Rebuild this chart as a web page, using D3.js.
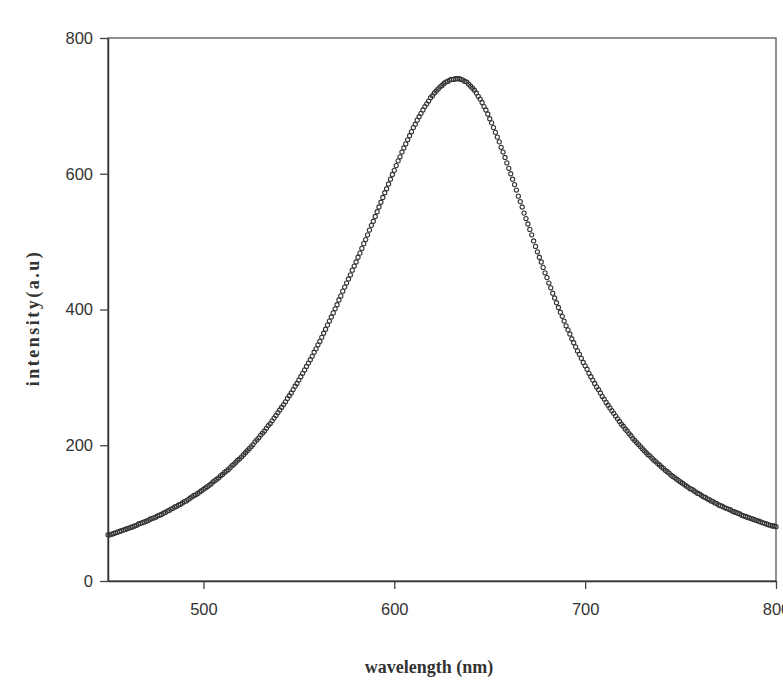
<!DOCTYPE html>
<html>
<head>
<meta charset="utf-8">
<script src="https://cdn.jsdelivr.net/npm/d3@7"></script>
<style>
  body { margin: 0; background: #fff; }
  svg { display: block; }
</style>
</head>
<body>
<div id="chart"></div>
<script>
// wavelength grid, 1 nm steps from 450 to 800
var wlStart = 450;
var wlEnd = 800;

// intensity, 450 .. 632 nm
var intensityLeft = [
  68, 68, 69, 70, 71, 72, 73, 74, 75, 76,
  77, 78, 79, 80, 81, 82, 84, 85, 86, 87,
  88, 89, 91, 92, 93, 94, 96, 97, 98, 100,
  101, 103, 104, 106, 107, 109, 110, 112, 113, 115,
  117, 118, 120, 122, 124, 126, 127, 129, 131, 133,
  135, 137, 139, 141, 143, 146, 148, 150, 152, 155,
  157, 160, 162, 164, 167, 170, 172, 175, 178, 180,
  183, 186, 189, 192, 195, 198, 201, 205, 208, 211,
  215, 218, 221, 225, 229, 232, 236, 240, 244, 248,
  252, 256, 260, 264, 269, 273, 277, 282, 287, 291,
  296, 301, 306, 311, 316, 321, 326, 331, 337, 342,
  348, 353, 359, 365, 371, 377, 383, 389, 395, 401,
  407, 414, 420, 427, 433, 439, 445, 451, 458, 464,
  470, 477, 483, 490, 497, 503, 510, 517, 524, 530,
  537, 544, 551, 558, 565, 572, 578, 585, 592, 599,
  605, 612, 619, 625, 632, 638, 644, 650, 656, 662,
  668, 673, 679, 684, 689, 694, 699, 703, 707, 712,
  715, 719, 722, 725, 728, 730, 733, 735, 736, 738,
  739, 739, 740
];

// intensity, 633 .. 800 nm
var intensityRight = [
  740, 740, 739, 738, 736, 735, 732, 729, 726, 723, 719,
  714, 710, 705, 699, 694, 688, 681, 675, 668, 661,
  654, 647, 639, 632, 624, 616, 608, 600, 592, 584,
  576, 567, 559, 551, 542, 534, 526, 518, 510, 501,
  493, 485, 477, 470, 462, 454, 447, 439, 432, 424,
  417, 410, 403, 396, 390, 383, 376, 370, 364, 357,
  351, 345, 339, 334, 328, 322, 317, 312, 306, 301,
  296, 291, 286, 282, 277, 272, 268, 263, 259, 255,
  251, 247, 243, 239, 235, 231, 228, 224, 221, 217,
  214, 210, 207, 204, 201, 198, 195, 192, 189, 186,
  184, 181, 178, 176, 173, 171, 168, 166, 163, 161,
  159, 156, 154, 152, 150, 148, 146, 144, 142, 140,
  138, 136, 135, 133, 131, 129, 128, 126, 124, 123,
  121, 120, 118, 117, 115, 114, 112, 111, 110, 108,
  107, 106, 105, 103, 102, 101, 100, 99, 97, 96,
  95, 94, 93, 92, 91, 90, 89, 88, 87, 86,
  85, 84, 83, 82, 81, 81, 80
];

var xTicks = [500, 600, 700, 800];
var yTicks = [0, 200, 400, 600, 800];

var svgwidth = 783;
var svgheight = 687;

var margin = { left: 108, top: 38, right: 7, bottom: 106 };
var inner_width = svgwidth - margin.left - margin.right;
var inner_height = svgheight - margin.top - margin.bottom;

var intensity = intensityLeft.concat(intensityRight);
var wavelength = d3.range(wlStart, wlEnd + 1);
var points = wavelength.map((w, i) => ({ w: w, v: intensity[i] }));

var svg = d3.select('#chart')
  .append('svg')
  .attr('width', svgwidth)
  .attr('height', svgheight);

var g = svg.append('g')
  .attr('transform', `translate(${margin.left}, ${margin.top})`);

var xscale = d3.scaleLinear()
  .domain([wlStart, wlEnd])
  .range([0, inner_width]);

var yscale = d3.scaleLinear()
  .domain([0, 800])
  .range([inner_height, 0]);

var xaxis = d3.axisBottom(xscale).tickValues(xTicks).tickSize(8).tickPadding(14).tickSizeOuter(0);
var yaxis = d3.axisLeft(yscale).tickValues(yTicks).tickSize(8).tickPadding(7).tickSizeOuter(0);

// frame
g.append('rect')
  .attr('width', inner_width)
  .attr('height', inner_height)
  .attr('fill', 'none')
  .attr('stroke', '#555')
  .attr('stroke-width', 1.3);

var gx = g.append('g')
  .attr('transform', 'translate(0, ' + inner_height + ')')
  .call(xaxis);

var gy = g.append('g').call(yaxis);

[gx, gy].forEach(a => {
  a.select('.domain').attr('stroke', '#333').attr('stroke-width', 1.5);
  a.selectAll('.tick line').attr('stroke', '#444').attr('stroke-width', 1.3);
  a.selectAll('.tick text')
    .attr('fill', '#333')
    .style('font-family', 'Liberation Sans, Arial, sans-serif')
    .style('font-size', '16.5px');
});

// markers
g.append('g')
  .selectAll('circle')
  .data(points)
  .join('circle')
  .attr('cx', d => xscale(d.w))
  .attr('cy', d => yscale(d.v))
  .attr('r', 2.1)
  .attr('fill', 'none')
  .attr('stroke', '#333')
  .attr('stroke-width', 1.1);

// Title on the X-axis
svg.append('text')
  .attr('x', 429)
  .attr('y', 673)
  .style('text-anchor', 'middle')
  .style('font-family', 'Liberation Serif, Times New Roman, serif')
  .style('font-weight', 'bold')
  .style('font-size', '18px')
  .attr('fill', '#333')
  .text('wavelength (nm)');

// Title on the Y-axis
svg.append('text')
  .attr('transform', 'rotate(-90)')
  .attr('x', -318)
  .attr('y', 39)
  .style('text-anchor', 'middle')
  .style('font-family', 'Liberation Serif, Times New Roman, serif')
  .style('font-weight', 'bold')
  .style('font-size', '18px')
  .style('letter-spacing', '2.5px')
  .attr('fill', '#333')
  .text('intensity(a.u)');
</script>
</body>
</html>
